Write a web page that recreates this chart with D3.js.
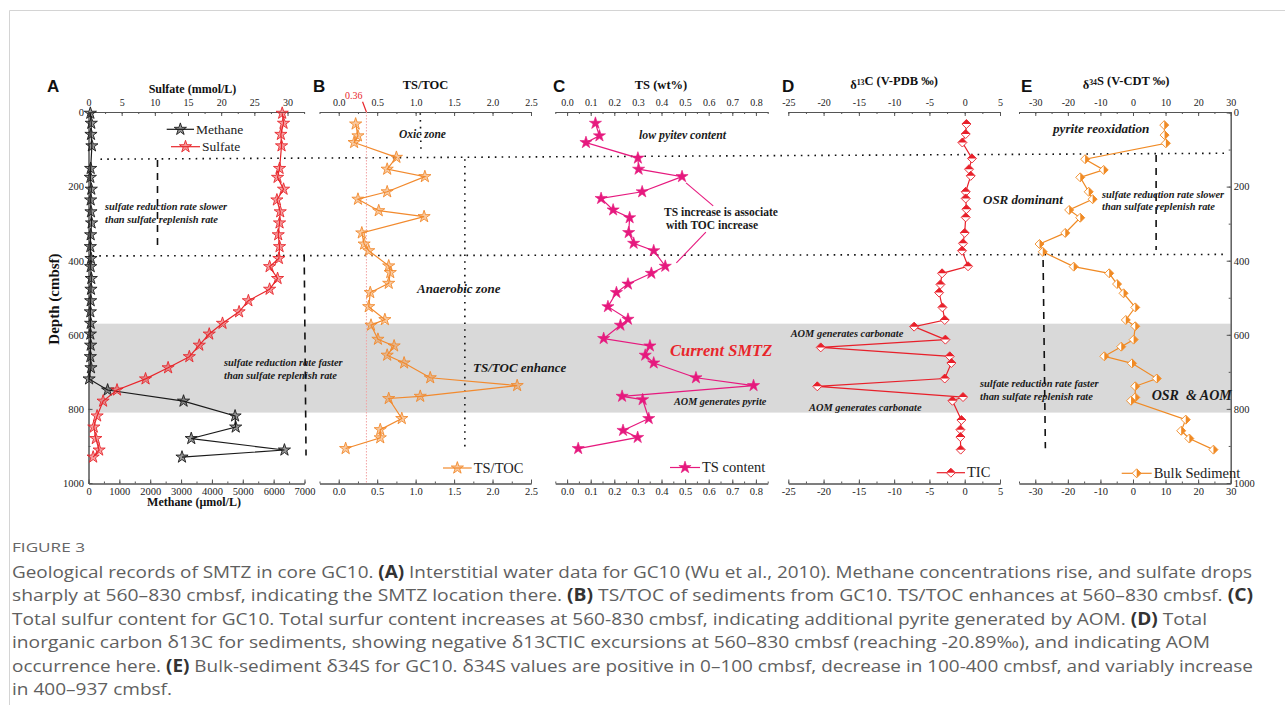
<!DOCTYPE html>
<html>
<head>
<meta charset="utf-8">
<script src="https://cdn.jsdelivr.net/npm/d3@7"></script>
<style>
body { margin: 0; background: #fff; }
</style>
</head>
<body>
<svg width="1285" height="715"></svg>
<script>
// depth in cmbsf for every series
var sulfateDepth = [2, 29, 59, 90, 151, 175, 207, 236, 268, 298, 330, 362, 394, 416, 448, 477, 508, 538, 569, 598, 628, 659, 689, 719, 749, 779, 819, 849, 880, 911, 930];
var sulfate = [29.2, 29.4, 29.0, 29.1, 28.8, 28.5, 29.4, 28.4, 28.9, 28.8, 28.6, 28.8, 28.7, 27.3, 28.5, 27.3, 24.1, 22.7, 20.2, 18.2, 16.7, 15.2, 12.0, 8.6, 4.3, 2.2, 1.3, 0.8, 1.1, 1.6, 0.7];
var methane = [60, 90, 80, 110, 70, 60, 90, 70, 80, 100, 70, 60, 80, 70, 90, 80, 70, 60, 70, 60, 70, 60, 80, 20, 620, 3080, 4750, 4770, 3330, 6350, 3030];

var tsTocDepth = [31, 63, 81, 121, 153, 173, 214, 234, 265, 281, 325, 355, 373, 414, 432, 461, 486, 524, 559, 574, 612, 630, 655, 676, 716, 737, 766, 772, 826, 856, 878, 907];
var tsToc = [0.22, 0.25, 0.20, 0.75, 0.63, 1.12, 0.63, 0.25, 0.52, 1.11, 0.30, 0.33, 0.39, 0.65, 0.67, 0.65, 0.41, 0.39, 0.60, 0.42, 0.51, 0.72, 0.63, 0.85, 1.19, 2.32, 1.06, 0.65, 0.82, 0.54, 0.54, 0.09];

var tsDepth = [29, 63, 81, 123, 153, 173, 214, 232, 263, 284, 324, 353, 373, 415, 434, 463, 486, 524, 558, 574, 610, 630, 655, 676, 716, 737, 766, 775, 826, 858, 877, 907];
var ts = [0.12, 0.137, 0.08, 0.30, 0.303, 0.487, 0.318, 0.144, 0.195, 0.265, 0.261, 0.282, 0.367, 0.416, 0.357, 0.258, 0.209, 0.173, 0.258, 0.226, 0.155, 0.351, 0.331, 0.367, 0.546, 0.79, 0.233, 0.32, 0.346, 0.237, 0.299, 0.047];

var ticDepth = [31, 58, 81, 124, 153, 171, 214, 232, 261, 283, 325, 353, 373, 415, 434, 464, 486, 526, 560, 578, 613, 634, 658, 676, 718, 739, 768, 778, 830, 856, 876, 910];
var tic = [0.24, 0.14, -0.33, 1.03, 0.61, 0.85, 0.14, 0.14, 0.24, 0.14, 0, -0.24, -0.38, 0.47, -3.21, -3.44, -3.63, -3.16, -2.83, -7.17, -2.74, -20.4, -2.12, -1.89, -2.83, -20.89, -0.24, -1.74, -0.47, -0.61, -0.61, -0.57];

var s34Depth = [34, 61, 83, 126, 155, 175, 214, 234, 263, 284, 325, 355, 376, 416, 434, 463, 488, 526, 560, 577, 613, 632, 658, 677, 718, 739, 769, 778, 829, 859, 880, 910];
var s34 = [9.6, 9.7, 10.1, -14.7, -9.0, -16.2, -13.6, -12.4, -19.6, -16.2, -20.8, -28.7, -27.7, -18.2, -7.3, -4.9, -2.9, 0.7, -2.2, 0.7, 0.2, -3.6, -8.8, -0.3, 7.3, 0.7, 0.7, -0.6, 16.2, 14.8, 17.3, 24.7];

// tick labels
var depthTicks = [0, 200, 400, 600, 800, 1000];
var sulfateTicks = [0, 5, 10, 15, 20, 25, 30];
var methaneTicks = [0, 1000, 2000, 3000, 4000, 5000, 6000, 7000];
var tsTocTicks = [0, 0.5, 1.0, 1.5, 2.0, 2.5];
var tsTicks = [0, 0.1, 0.2, 0.3, 0.4, 0.5, 0.6, 0.7, 0.8];
var ticTicks = [-25, -20, -15, -10, -5, 0, 5];
var s34Ticks = [-30, -20, -10, 0, 10, 20, 30];

var smtzBand = [570, 810];

var captionLines = [
  [['n', 'Geological records of SMTZ in core GC10. '], ['b', '(A)'], ['n', ' Interstitial water data for GC10 (Wu et al., 2010). Methane concentrations rise, and sulfate drops']],
  [['n', 'sharply at 560\u2013830 cmbsf, indicating the SMTZ location there. '], ['b', '(B)'], ['n', ' TS/TOC of sediments from GC10. TS/TOC enhances at 560\u2013830 cmbsf. '], ['b', '(C)']],
  [['n', 'Total sulfur content for GC10. Total surfur content increases at 560-830 cmbsf, indicating additional pyrite generated by AOM. '], ['b', '(D)'], ['n', ' Total']],
  [['n', 'inorganic carbon \u03b413C for sediments, showing negative \u03b413CTIC excursions at 560\u2013830 cmbsf (reaching -20.89\u2030), and indicating AOM']],
  [['n', 'occurrence here. '], ['b', '(E)'], ['n', ' Bulk-sediment \u03b434S for GC10. \u03b434S values are positive in 0\u2013100 cmbsf, decrease in 100-400 cmbsf, and variably increase']],
  [['n', 'in 400\u2013937 cmbsf.']]
];
// right end of each caption line in the reference
var captionEnds = [1252, 1253, 1207, 1210, 1253, 172];

var SERIF = 'Liberation Serif, Times New Roman, serif';
var SANS = 'Liberation Sans, Arial, sans-serif';
var AX = '#555';

var svg = d3.select('svg');

var yTop = 112, yBot = 483.5;
var depthY = d3.scaleLinear().domain([0, 1000]).range([112.5, 483]);

var sulfateX = d3.scaleLinear().domain([0, 32.56]).range([88.5, 304.5]);
var methaneX = d3.scaleLinear().domain([0, 7000]).range([88.5, 304.5]);
var tsTocX = d3.scaleLinear().domain([-0.25, 2.5]).range([319.5, 531]);
var tsX = d3.scaleLinear().domain([-0.05, 0.85]).range([555.3, 767.7]);
var ticX = d3.scaleLinear().domain([-25, 5]).range([788.3, 1000]);
var s34X = d3.scaleLinear().domain([-35, 30]).range([1019, 1230.7]);

function zip(depths, vals) {
  return depths.map(function (d, i) {
    return {d: d, v: vals[i]};
  });
}

function range(a, b, step) {
  var out = [];
  for (var v = a; v <= b + 1e-9; v += step) {
    out.push(+v.toFixed(4));
  }
  return out;
}

// frame
svg.append('path')
  .attr('d', 'M9.5,705 V10.5 H1285')
  .attr('fill', 'none')
  .attr('stroke', '#d4d4d4');

// SMTZ band
svg.append('rect')
  .attr('x', sulfateX(0))
  .attr('y', depthY(smtzBand[0]))
  .attr('width', s34X(30) - sulfateX(0))
  .attr('height', depthY(smtzBand[1]) - depthY(smtzBand[0]))
  .attr('fill', '#d9d9d9');

function styleAxis(g, size) {
  g.select('.domain').attr('stroke', AX).attr('stroke-width', 1);
  g.selectAll('.tick line').attr('stroke', AX);
  g.selectAll('text')
    .attr('font-family', SERIF)
    .attr('font-size', size || 10)
    .attr('fill', '#222');
}

var f1 = d3.format('.1f');
var plain = function (d) { return String(d); };

function hAxis(scale, y, major, minor, fmt, top) {
  var mk = top ? d3.axisTop : d3.axisBottom;
  var g1 = svg.append('g').attr('transform', 'translate(0,' + y + ')');
  g1.call(mk(scale).tickValues(minor).tickSize(-2).tickSizeOuter(0).tickFormat(''));
  styleAxis(g1);
  var g2 = svg.append('g').attr('transform', 'translate(0,' + y + ')');
  g2.call(mk(scale).tickValues(major).tickSize(-4).tickSizeOuter(0).tickPadding(top ? 6 : 4).tickFormat(fmt));
  styleAxis(g2, top ? 10 : 10.5);
}

function vAxis(x, right) {
  var mk = right ? d3.axisRight : d3.axisLeft;
  var g1 = svg.append('g').attr('transform', 'translate(' + x + ',0)');
  g1.call(mk(depthY).tickValues(range(0, 1000, 100)).tickSize(-2).tickSizeOuter(0).tickFormat(''));
  styleAxis(g1);
  var g2 = svg.append('g').attr('transform', 'translate(' + x + ',0)');
  g2.call(mk(depthY).tickValues(depthTicks).tickSize(-4).tickSizeOuter(0).tickPadding(right ? 3 : 4.5).tickFormat(plain));
  styleAxis(g2, 10.5);
}

hAxis(sulfateX, yTop, sulfateTicks, range(0, 32.5, 2.5), plain, true);
hAxis(methaneX, yBot, methaneTicks, range(0, 7000, 500), plain, false);
hAxis(tsTocX, yTop, tsTocTicks, range(-0.25, 2.5, 0.25), f1, true);
hAxis(tsTocX, yBot, tsTocTicks, range(-0.25, 2.5, 0.25), f1, false);
hAxis(tsX, yTop, tsTicks, range(-0.05, 0.85, 0.05), f1, true);
hAxis(tsX, yBot, tsTicks, range(-0.05, 0.85, 0.05), f1, false);
hAxis(ticX, yTop, ticTicks, range(-25, 5, 2.5), plain, true);
hAxis(ticX, yBot, ticTicks, range(-25, 5, 2.5), plain, false);
hAxis(s34X, yTop, s34Ticks, range(-35, 30, 5), plain, true);
hAxis(s34X, yBot, s34Ticks, range(-35, 30, 5), plain, false);
vAxis(sulfateX(0), false);
vAxis(s34X(30), true);

// zone boundary lines
function dline(x1, y1, x2, y2, dash, color, w) {
  svg.append('line')
    .attr('x1', x1).attr('y1', y1).attr('x2', x2).attr('y2', y2)
    .attr('stroke', color || '#111')
    .attr('stroke-width', w || 1.6)
    .attr('stroke-dasharray', dash);
}
var DOT = '1.6,5.2';
var DASH = '7,6';
dline(sulfateX(1.8), depthY(126), s34X(29), depthY(110), DOT);
dline(sulfateX(0.6), depthY(387), s34X(29), depthY(383), DOT);
dline(sulfateX(10.4), depthY(128), sulfateX(10.4), depthY(358), DASH);
dline(methaneX(6990), depthY(383), methaneX(7050), depthY(926), DASH);
dline(tsTocX(1.06), depthY(2), tsTocX(1.07), depthY(110), DOT);
dline(tsTocX(1.64), depthY(126), tsTocX(1.64), depthY(902), DOT);
dline(s34X(7.1), depthY(115), s34X(7.1), depthY(371), DASH);
dline(s34X(-27.6), depthY(398), s34X(-26.9), depthY(906), DASH);

// TS/TOC 0.36 reference
dline(tsTocX(0.36), yTop, tsTocX(0.36), yBot, '1.5,1.5', '#f2a3a3', 1);
dline(tsTocX(0.31), 101.7, tsTocX(0.36), yTop, null, '#e8262b', 1.2);
svg.append('text')
  .attr('x', tsTocX(0.31)).attr('y', 98.5)
  .attr('text-anchor', 'end')
  .attr('font-family', SERIF).attr('font-size', 10)
  .attr('fill', '#e8262b')
  .text('0.36');

// C pointer lines
dline(tsX(0.504), depthY(190), tsX(0.619), depthY(252), null, '#e6197e', 1.1);
dline(tsX(0.588), depthY(323), tsX(0.463), depthY(406), null, '#e6197e', 1.1);

// markers
var starPath = d3.symbol().type(d3.symbolStar).size(46)();

function diamond(r, half) {
  var outline = 'M0,' + (-r) + 'L' + r + ',0L0,' + r + 'L' + (-r) + ',0Z';
  var fill = half === 'top'
    ? 'M0,' + (-r) + 'L' + r + ',0L' + (-r) + ',0Z'
    : 'M0,' + (-r) + 'L' + r + ',0L0,' + r + 'Z';
  return {outline: outline, fill: fill};
}

function drawMarker(g, x, y, kind, color) {
  var m = g.append('g').attr('transform', 'translate(' + x + ',' + y + ')');
  if (kind === 'star') {
    m.append('path').attr('d', starPath)
      .attr('fill', color).attr('fill-opacity', 0.45)
      .attr('stroke', color).attr('stroke-width', 0.9);
  } else if (kind === 'solidstar') {
    m.append('path').attr('d', starPath)
      .attr('fill', color).attr('stroke', color).attr('stroke-width', 0.6);
  } else {
    var dm = diamond(4.5, kind);
    m.append('path').attr('d', dm.outline)
      .attr('fill', '#fff').attr('stroke', color).attr('stroke-width', 0.9);
    m.append('path').attr('d', dm.fill).attr('fill', color);
  }
}

function drawSeries(data, xs, color, kind) {
  var g = svg.append('g');
  var line = d3.line()
    .x(function (d) { return xs(d.v); })
    .y(function (d) { return depthY(d.d); });
  g.append('path')
    .datum(data)
    .attr('d', line)
    .attr('fill', 'none')
    .attr('stroke', color)
    .attr('stroke-width', 1.2);
  data.forEach(function (d) {
    drawMarker(g, xs(d.v), depthY(d.d), kind, color);
  });
}

var cMethane = '#1a1a1a', cSulfate = '#e8262b', cTsToc = '#f28a2e', cTs = '#e6197e', cTic = '#e8202a', cS34 = '#f08a24';

drawSeries(zip(sulfateDepth, methane), methaneX, cMethane, 'star');
drawSeries(zip(sulfateDepth, sulfate), sulfateX, cSulfate, 'star');
drawSeries(zip(tsTocDepth, tsToc), tsTocX, cTsToc, 'star');
drawSeries(zip(tsDepth, ts), tsX, cTs, 'solidstar');
drawSeries(zip(ticDepth, tic), ticX, cTic, 'top');
drawSeries(zip(s34Depth, s34), s34X, cS34, 'right');

// legends
function legend(x1, x2, y, label, color, kind, size) {
  var g = svg.append('g');
  g.append('line').attr('x1', x1).attr('x2', x2).attr('y1', y).attr('y2', y)
    .attr('stroke', color).attr('stroke-width', 1.2);
  drawMarker(g, (x1 + x2) / 2, y, kind, color);
  g.append('text').attr('x', x2 + 2).attr('y', y + 4.5)
    .attr('font-family', SERIF).attr('font-size', size)
    .attr('fill', '#222').text(label);
}
legend(166.7, 194, 129.3, 'Methane', cMethane, 'star', 13.5);
legend(171, 200, 146.7, 'Sulfate', cSulfate, 'star', 13.5);
legend(443, 471.7, 468, 'TS/TOC', cTsToc, 'star', 14.5);
legend(670, 700, 467.5, 'TS content', cTs, 'solidstar', 14.5);
legend(936.7, 965, 472.7, 'TIC', cTic, 'top', 14.5);
legend(1121.7, 1151.7, 473.3, 'Bulk Sediment', cS34, 'right', 14.5);

// titles
function title(x, y, parts, size, anchor) {
  var t = svg.append('text')
    .attr('x', x).attr('y', y)
    .attr('text-anchor', anchor || 'middle')
    .attr('font-family', SERIF).attr('font-weight', 'bold')
    .attr('font-size', size).attr('fill', '#111');
  parts.forEach(function (p) {
    if (p.sup) {
      t.append('tspan').attr('dy', -4).attr('font-size', size * 0.62).text(p.sup);
      t.append('tspan').attr('dy', 4).text('');
    } else {
      t.append('tspan').text(p.t);
    }
  });
  return t;
}
title(192.5, 93, [{t: 'Sulfate (mmol/L)'}], 12);
title(194, 506, [{t: 'Methane (\u03bcmol/L)'}], 12);
title(425.5, 88.5, [{t: 'TS/TOC'}], 12.5);
title(661, 89, [{t: 'TS (wt%)'}], 12.5);
title(894, 89, [{t: '\u03b4'}, {sup: '13'}, {t: 'C (V-PDB \u2030)'}], 12.5);
title(1126, 89, [{t: '\u03b4'}, {sup: '34'}, {t: 'S (V-CDT \u2030)'}], 12.5);
title(0, 0, [{t: 'Depth (cmbsf)'}], 15)
  .attr('transform', 'translate(59,299) rotate(-90)');

// panel letters
[['A', 47], ['B', 313], ['C', 553], ['D', 782], ['E', 1021]].forEach(function (p) {
  svg.append('text')
    .attr('x', p[1]).attr('y', 92)
    .attr('font-family', SANS).attr('font-weight', 'bold')
    .attr('font-size', 17).attr('fill', '#111')
    .text(p[0]);
});

// annotations
var notes = [
  ['sulfate reduction rate slower', 105, 210, 10.4],
  ['than sulfate replenish rate', 105, 222.5, 10.4],
  ['sulfate reduction rate faster', 224, 366, 10.4],
  ['than sulfate replenish rate', 224, 378.5, 10.4],
  ['Oxic zone', 399, 138, 11.5],
  ['Anaerobic zone', 417, 293, 13],
  ['TS/TOC enhance', 473, 371.5, 13],
  ['low pyitev content', 639, 139, 11.8],
  ['AOM generates pyrite', 674, 404.5, 10.2],
  ['AOM generates carbonate', 790.7, 337, 10.4],
  ['AOM generates carbonate', 809, 411, 10.4],
  ['OSR dominant', 983, 203.5, 13],
  ['pyrite reoxidation', 1053, 132.5, 13.2],
  ['sulfate reduction rate slower', 1102, 197.5, 10.4],
  ['than sulfate replenish rate', 1102, 210, 10.4],
  ['sulfate reduction rate faster', 980, 387, 10.4],
  ['than sulfate replenish rate', 980, 400, 10.4],
  ['OSR  & AOM', 1151.7, 399.5, 14]
];
notes.forEach(function (n) {
  svg.append('text')
    .attr('x', n[1]).attr('y', n[2])
    .attr('font-family', SERIF).attr('font-weight', 'bold').attr('font-style', 'italic')
    .attr('font-size', n[3]).attr('fill', '#1a1a1a')
    .attr('xml:space', 'preserve')
    .text(n[0]);
});
svg.append('text')
  .attr('x', 670).attr('y', 356)
  .attr('font-family', SERIF).attr('font-weight', 'bold').attr('font-style', 'italic')
  .attr('font-size', 16.5).attr('fill', '#e8262b')
  .text('Current SMTZ');
[['TS increase is associate', 664, 215.5], ['with TOC increase', 666, 229]].forEach(function (n) {
  svg.append('text')
    .attr('x', n[1]).attr('y', n[2])
    .attr('font-family', SERIF).attr('font-weight', 'bold')
    .attr('font-size', 11.5).attr('fill', '#1a1a1a')
    .text(n[0]);
});

// caption
svg.append('text')
  .attr('x', 12).attr('y', 552)
  .attr('font-family', 'Open Sans, sans-serif')
  .attr('font-size', 13.5).attr('fill', '#666')
  .attr('textLength', 73).attr('lengthAdjust', 'spacingAndGlyphs')
  .text('FIGURE 3');
captionLines.forEach(function (line, i) {
  var t = svg.append('text')
    .attr('x', 12).attr('y', 578 + i * 23.4)
    .attr('font-family', 'Open Sans, sans-serif')
    .attr('font-size', 17).attr('fill', '#5f5f5f')
    .attr('textLength', captionEnds[i] - 12)
    .attr('lengthAdjust', 'spacingAndGlyphs');
  line.forEach(function (seg) {
    var ts = t.append('tspan').text(seg[1]);
    if (seg[0] === 'b') {
      ts.attr('font-weight', 'bold').attr('fill', '#333');
    }
  });
});
</script>
</body>
</html>
